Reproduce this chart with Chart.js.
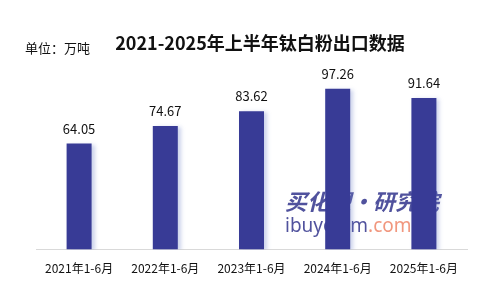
<!DOCTYPE html>
<html>
<head>
<meta charset="utf-8">
<script src="https://cdn.jsdelivr.net/npm/chart.js@4/dist/chart.umd.min.js"></script>
<style>
  html, body { margin: 0; padding: 0; background: #fff; }
  #wrap { position: relative; width: 501px; height: 300px; overflow: hidden; }
  #chart { position: absolute; left: 0; top: 0; }
  .title {
    position: absolute; left: 0; width: 520px; top: 30px; text-align: center;
    font: bold 18px "Noto Sans CJK SC", sans-serif; color: #111; line-height: 24px;
  }
  .unit {
    position: absolute; left: 25px; top: 39px;
    font: 13px "Noto Sans CJK SC", sans-serif; color: #111; line-height: 18px;
  }
</style>
</head>
<body>
<div id="wrap">
  <canvas id="chart" width="501" height="300"></canvas>
  <div class="title">2021-2025年上半年钛白粉出口数据</div>
  <div class="unit">单位：万吨</div>
</div>
<script>
// 上半年出口量（万吨）
const categories = ['2021年1-6月', '2022年1-6月', '2023年1-6月', '2024年1-6月', '2025年1-6月'];
const exportVolumes = [64.05, 74.67, 83.62, 97.26, 91.64];
const yMax = 120;

const BAR_COLOR = '#383b96';

// value labels above each bar
const valueLabels = {
  id: 'valueLabels',
  afterDatasetsDraw(chart) {
    const { ctx } = chart;
    const meta = chart.getDatasetMeta(0);
    ctx.save();
    ctx.fillStyle = '#111';
    ctx.font = '13px "Noto Sans CJK SC", sans-serif';
    ctx.textAlign = 'center';
    ctx.textBaseline = 'middle';
    meta.data.forEach((bar, i) => {
      ctx.fillText(exportVolumes[i].toFixed(2), bar.x, bar.y - 15);
    });
    ctx.restore();
  },
};

// soft shadow on the right side of the bars
const barShadow = {
  id: 'barShadow',
  beforeDatasetDraw(chart) {
    const { ctx } = chart;
    ctx.save();
    ctx.shadowColor = 'rgba(110,130,200,0.35)';
    ctx.shadowBlur = 4;
    ctx.shadowOffsetX = 3;
    ctx.shadowOffsetY = 1;
  },
  afterDatasetDraw(chart) {
    chart.ctx.restore();
  },
};

// site watermark, sits behind the bars
const watermark = {
  id: 'watermark',
  beforeDatasetsDraw(chart) {
    const { ctx } = chart;
    ctx.save();
    ctx.globalAlpha = 0.9;
    ctx.textBaseline = 'middle';
    ctx.textAlign = 'left';
    ctx.fillStyle = '#3d3f92';
    ctx.font = 'italic bold 22px "Noto Sans CJK SC", sans-serif';
    ctx.fillText('买化塑·研究院', 285, 202);
    ctx.font = '19px "Noto Sans", sans-serif';
    ctx.fillText('ibuyeplm', 285, 227);
    const w = ctx.measureText('ibuyeplm').width;
    ctx.fillStyle = '#f08c70';
    ctx.fillText('.com', 285 + w, 227);
    ctx.restore();
  },
};

new Chart(document.getElementById('chart'), {
  type: 'bar',
  data: {
    labels: categories,
    datasets: [{
      data: exportVolumes,
      backgroundColor: BAR_COLOR,
      borderWidth: 0,
      categoryPercentage: 0.58,
      barPercentage: 0.5,
    }],
  },
  options: {
    responsive: false,
    animation: false,
    events: [],
    layout: { padding: { left: 36, right: 34, top: 51, bottom: 20 } },
    plugins: {
      legend: { display: false },
      tooltip: { enabled: false },
    },
    scales: {
      x: {
        grid: { display: false },
        border: { display: true, color: '#d9d9d9', width: 1 },
        ticks: {
          color: '#111',
          font: { family: '"Noto Sans CJK SC", sans-serif', size: 12 },
          maxRotation: 0,
          padding: 4,
        },
      },
      y: {
        display: false,
        min: 0,
        max: yMax,
      },
    },
  },
  plugins: [watermark, barShadow, valueLabels],
});
</script>
</body>
</html>
